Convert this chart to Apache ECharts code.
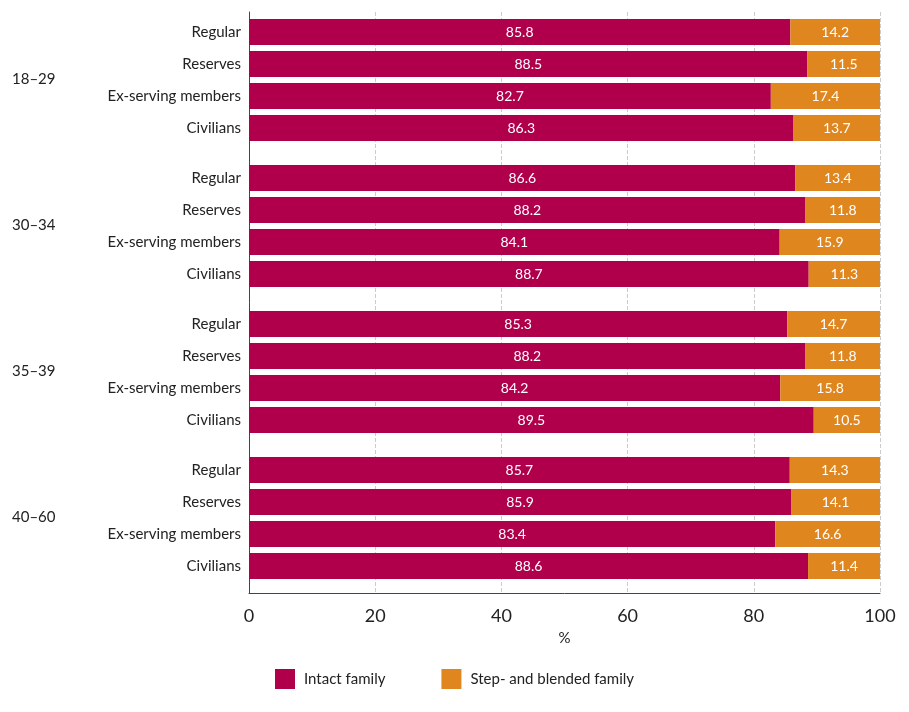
<!DOCTYPE html>
<html><head><meta charset="utf-8">
<script src="https://cdn.jsdelivr.net/npm/echarts@6/dist/echarts.min.js"></script>
<style>html,body{margin:0;padding:0;background:#fff}#c{width:909px;height:712px}</style>
</head><body><div id="c"></div>
<script>
const groups = ['18–29', '30–34', '35–39', '40–60'];
const rows = ['Regular', 'Reserves', 'Ex-serving members', 'Civilians'];
const intact = [
  [85.8, 88.5, 82.7, 86.3],
  [86.6, 88.2, 84.1, 88.7],
  [85.3, 88.2, 84.2, 89.5],
  [85.7, 85.9, 83.4, 88.6]
];
const step = [
  [14.2, 11.5, 17.4, 13.7],
  [13.4, 11.8, 15.9, 11.3],
  [14.7, 11.8, 15.8, 10.5],
  [14.3, 14.1, 16.6, 11.4]
];
const xTicks = [0, 20, 40, 60, 80, 100];

const FONT = 'Lato';
const chart = echarts.init(document.getElementById('c'));
const grids = [{ left: 249, right: 29, top: 12, bottom: 119 }];
const xAxes = [{
  gridIndex: 0, type: 'value', min: 0, max: 100, interval: 20,
  name: '%', nameLocation: 'middle', nameGap: 38,
  nameTextStyle: { fontFamily: FONT, fontSize: 15, color: '#222' },
  axisLine: { show: true, lineStyle: { color: '#444' } },
  axisTick: { show: false },
  axisLabel: { fontFamily: FONT, fontSize: 18, color: '#222', margin: 14,
    formatter: v => xTicks.includes(v) ? String(v) : '' },
  splitLine: { show: true, lineStyle: { type: 'dashed', color: '#ccc' } }
}];
const yAxes = [{ gridIndex: 0, type: 'category', data: [''], axisLine: { show: true, lineStyle: { color: '#444' } },
  axisTick: { show: false }, axisLabel: { show: false } }];
const series = [];
const graphics = [];
groups.forEach((g, i) => {
  const top = 16 + i * 146;
  grids.push({ left: 249, right: 29, top: top, height: 128 });
  xAxes.push({ gridIndex: i + 1, type: 'value', min: 0, max: 100, show: false, splitLine: { show: false } });
  yAxes.push({ gridIndex: i + 1, type: 'category', inverse: true, data: rows,
    axisLine: { show: false }, axisTick: { show: false },
    axisLabel: { fontFamily: FONT, fontSize: 15, color: '#222', margin: 8 } });
  const lbl = { show: true, position: 'inside', color: '#fff', fontFamily: FONT, fontSize: 14 };
  series.push({ name: 'Intact family', type: 'bar', stack: 's' + i, xAxisIndex: i + 1, yAxisIndex: i + 1,
    data: intact[i], barWidth: 26, itemStyle: { color: '#b0004c' }, label: lbl });
  series.push({ name: 'Step- and blended family', type: 'bar', stack: 's' + i, xAxisIndex: i + 1, yAxisIndex: i + 1,
    data: step[i], barWidth: 26, itemStyle: { color: '#e0861f' }, label: lbl });
  graphics.push({ type: 'text', left: 12, top: top + 56,
    style: { text: g, fontFamily: FONT, fontSize: 15, fill: '#222' } });
});

chart.setOption({
  animation: false,
  grid: grids, xAxis: xAxes, yAxis: yAxes, series: series, graphic: graphics,
  legend: {
    bottom: 18, left: 'center', itemWidth: 20, itemHeight: 20, itemGap: 56, icon: 'rect',
    data: ['Intact family', 'Step- and blended family'],
    textStyle: { fontFamily: FONT, fontSize: 15, color: '#222', padding: [0, 0, 0, 4] }
  }
});
</script></body></html>
